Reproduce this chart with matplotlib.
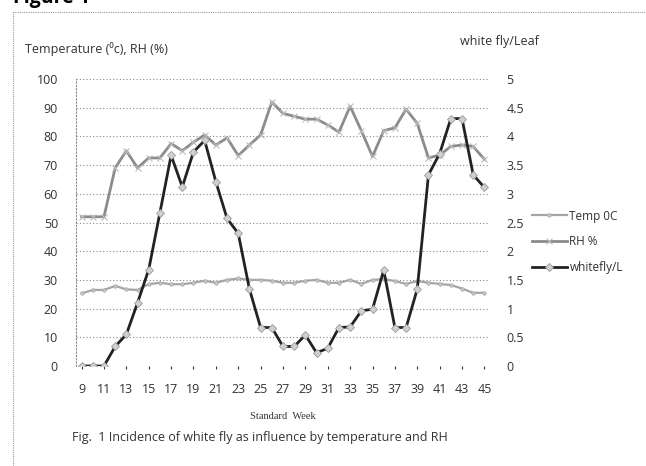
import matplotlib.pyplot as plt
import matplotlib.patches as patches
import numpy as np

plt.rcParams['font.family'] = ['Open Sans', 'DejaVu Sans']

# standard weeks 9..45
weeks = list(range(9, 46))

temp = [25.3, 26.5, 26.5, 27.9, 26.7, 26.5, 28.5, 29, 28.5, 28.5,
        29, 29.7, 29, 30, 30.5, 30, 30, 29.7, 29, 29,
        29.7, 30, 29, 29, 30, 28.6, 30, 30.3, 29.6, 28.6,
        29.6, 29, 28.6, 28.2, 27, 25.5, 25.5]

rh = [52, 52, 52, 69, 75, 69, 72.5, 72.5, 77.5, 75,
      78, 80.5, 77, 79.5, 73.3, 77, 80.5, 92, 88, 87,
      86, 86, 84, 81.5, 90.5, 82, 73, 82, 83, 89.5,
      84.5, 72.5, 73.5, 76.5, 77, 76.5, 72]

whitefly = [0, 0, 0, 0.34, 0.55, 1.1, 1.68, 2.67, 3.67, 3.12,
            3.73, 3.93, 3.21, 2.57, 2.31, 1.34, 0.67, 0.67, 0.34, 0.34,
            0.54, 0.23, 0.31, 0.67, 0.68, 0.96, 0.99, 1.67, 0.67, 0.67,
            1.34, 3.33, 3.7, 4.31, 4.31, 3.33, 3.11]

left_ticks = list(range(0, 101, 10))
right_ticks = [0, 0.5, 1, 1.5, 2, 2.5, 3, 3.5, 4, 4.5, 5]
right_labels = ['0', '0.5', '1', '1.5', '2', '2.5', '3', '3.5', '4', '4.5', '5']
x_ticks = list(range(9, 46, 2))

txt = '#333333'

fig = plt.figure(figsize=(6.46, 4.66), dpi=100)

# dotted frame around the figure
frame = patches.Rectangle((13/646, -0.02), 1.0, 1 - 12/466 + 0.02,
                          transform=fig.transFigure, fill=False,
                          edgecolor='#999999', linestyle=(0, (1, 1)), linewidth=0.8)
fig.add_artist(frame)
# heading is partly cropped at the top edge in the original
fig.text(13/646, 1.0 + 2/466, 'Figure 1', fontsize=14, fontweight='bold',
         ha='left', va='center', color='black')

ax = fig.add_axes([76/646, 100/466, 414/646, 287/466])
ax2 = ax.twinx()

ax.plot(weeks, temp, color='#a5a5a5', lw=1.6, marker='o', ms=2.5,
        mfc='#c8c8c8', mec='#a5a5a5', mew=0.5, label='Temp 0C', zorder=3)
ax.plot(weeks, rh, color='#8c8c8c', lw=2, marker='x', ms=5,
        mec='#bdbdbd', mew=0.8, label='RH %', zorder=3)
ax2.plot(weeks, whitefly, color='#222222', lw=2, marker='D', ms=4,
         mfc='#d0d0d0', mec='#9a9a9a', mew=0.6, label='whitefly/L', zorder=4)

ax.set_xlim(8.5, 45.5)
ax.set_ylim(0, 100)
ax2.set_ylim(0, 5)
ax.set_yticks(left_ticks)
ax2.set_yticks(right_ticks)
ax2.set_yticklabels(right_labels)
ax.set_xticks(x_ticks)

ax.grid(axis='y', color='#888888', linestyle=(0, (1, 2)), linewidth=0.8)
for a in (ax, ax2):
    for s in ['top', 'right', 'bottom', 'left']:
        a.spines[s].set_visible(False)
ax.spines['left'].set_visible(True)
ax.spines['left'].set_linestyle((0, (1, 2)))
ax.spines['left'].set_color('#888888')

ax.tick_params(axis='y', length=0, pad=13, labelsize=9, colors=txt)
ax2.tick_params(axis='y', length=0, pad=12, labelsize=9, colors=txt)
ax.tick_params(axis='x', length=2, pad=10, labelsize=9, colors=txt)

ax.set_xlabel('Standard  Week', fontsize=7.5, color=txt, labelpad=12,
              family=['Liberation Serif', 'DejaVu Serif'])

fig.text(25/646, 1 - 49/466, 'Temperature (⁰c), RH (%)', fontsize=9,
         color=txt, ha='left', va='center')
fig.text(460/646, 1 - 41/466, 'white fly/Leaf', fontsize=9,
         color=txt, ha='left', va='center')
fig.text(72/646, 1 - 437/466,
         'Fig.  1 Incidence of white fly as influence by temperature and RH',
         fontsize=9, color=txt, ha='left', va='center')

h1, l1 = ax.get_legend_handles_labels()
h2, l2 = ax2.get_legend_handles_labels()
fig.legend(h1 + h2, l1 + l2, loc='center left',
           bbox_to_anchor=(521/646, 1 - 242/466), frameon=False,
           fontsize=8.5, handlelength=3, handletextpad=0.2,
           labelspacing=1.1, labelcolor=txt)

fig.savefig('out.png', dpi=100)
